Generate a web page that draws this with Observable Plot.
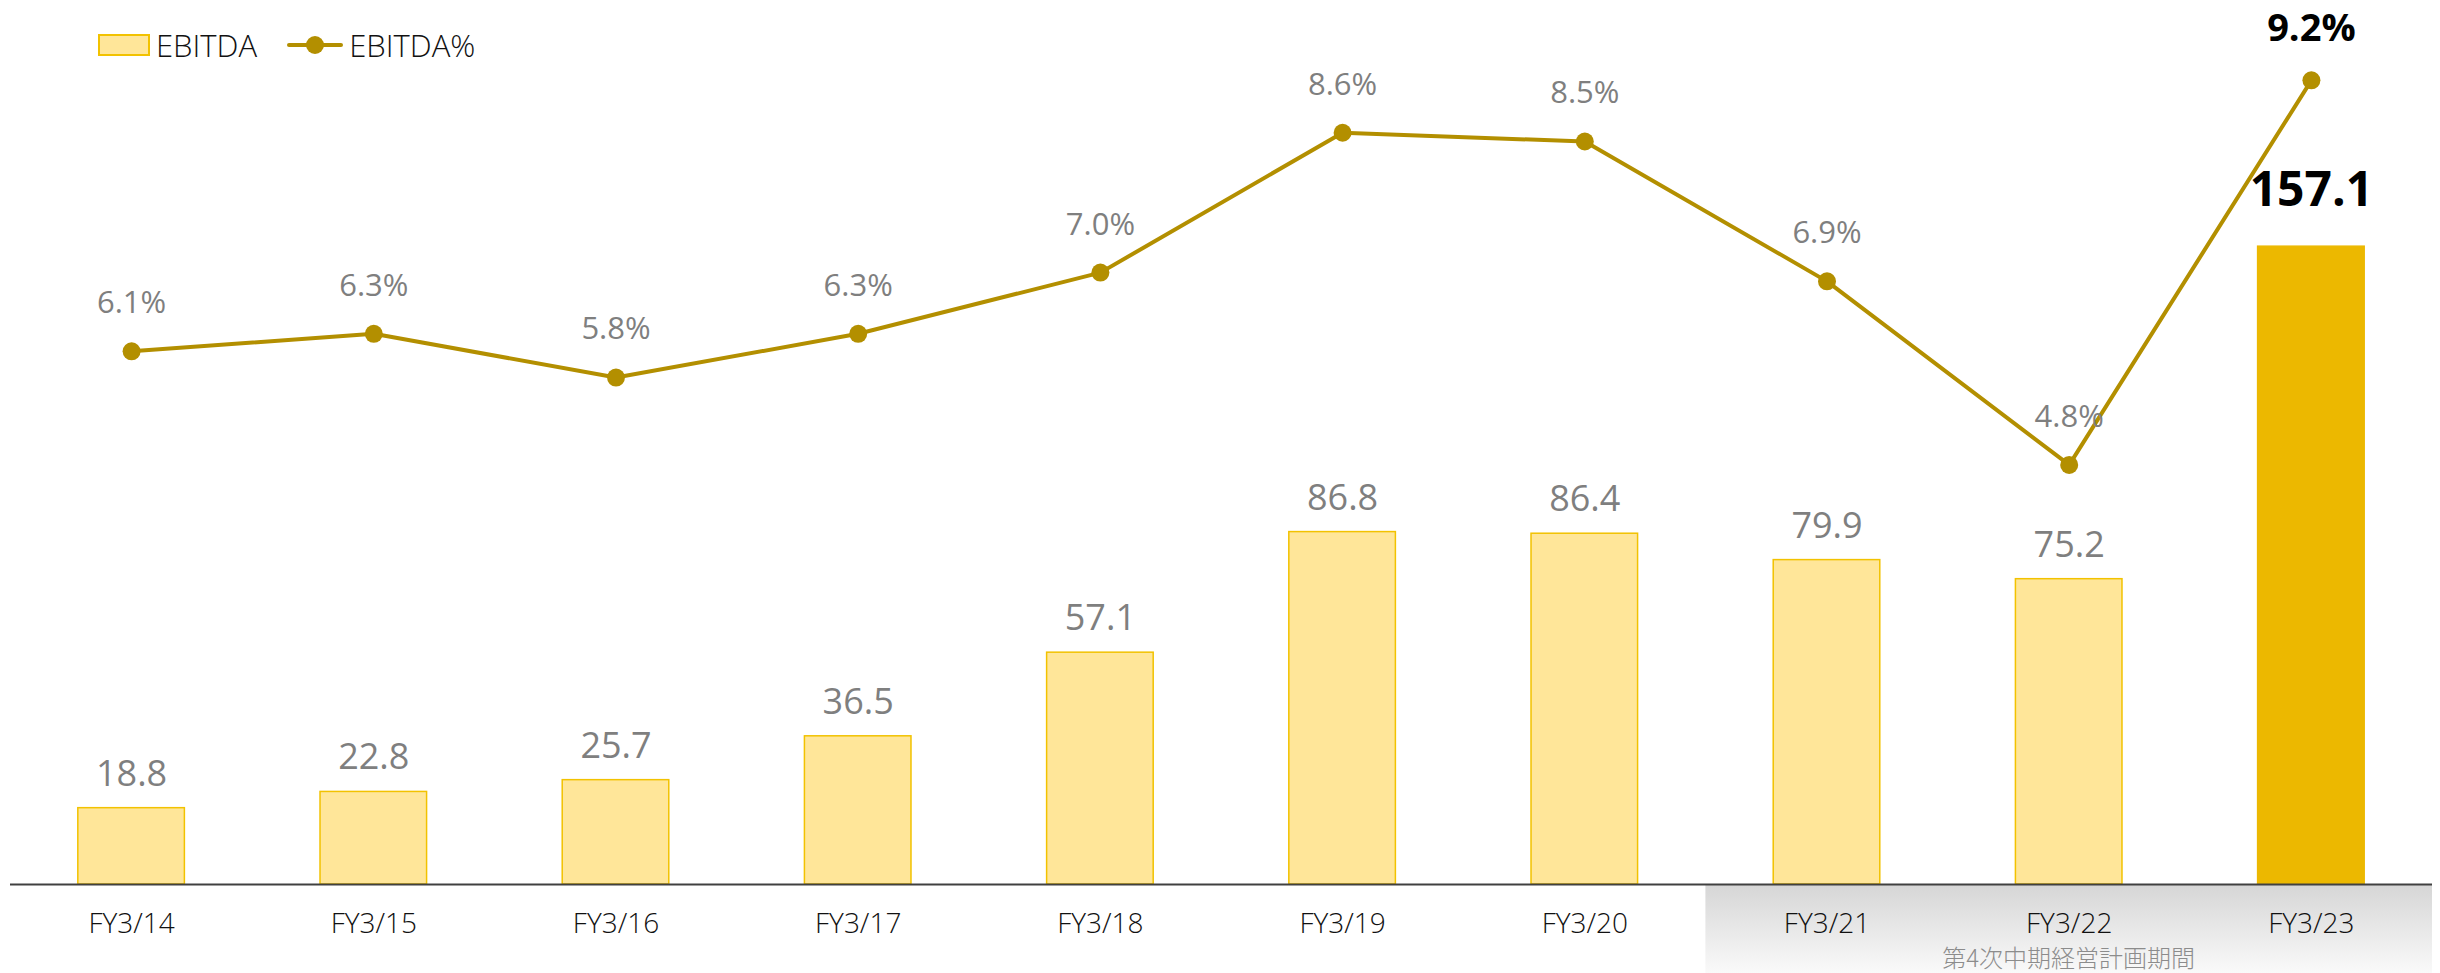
<!DOCTYPE html>
<html><head><meta charset="utf-8">
<script src="https://cdn.jsdelivr.net/npm/d3@7"></script>
<script src="https://cdn.jsdelivr.net/npm/@observablehq/plot@0.6"></script>
<style>
body{margin:0;background:#fff;font-family:"Open Sans",Lato,sans-serif;}
#wrap{position:relative;width:2440px;height:973px;}
#legend{position:absolute;left:98px;top:24px;display:flex;align-items:center;font-size:31px;font-weight:300;color:#111;}
</style></head>
<body><div id="wrap"><div id="legend"></div></div>
<script>
const categories = ["FY3/14","FY3/15","FY3/16","FY3/17","FY3/18","FY3/19","FY3/20","FY3/21","FY3/22","FY3/23"];
const ebitda = [18.8,22.8,25.7,36.5,57.1,86.8,86.4,79.9,75.2,157.1];
const ebitdaPct = [6.1,6.3,5.8,6.3,7.0,8.6,8.5,6.9,4.8,9.2];
const planCategories = ["FY3/21","FY3/22","FY3/23"];
const planLabel = "第4次中期経営計画期間";
const seriesNames = ["EBITDA","EBITDA%"];

const K = 21.53; // secondary-axis ratio (percent -> bar units)
const last = categories[categories.length-1];
const data = categories.map((c,i)=>({cat:c, v:ebitda[i], p:ebitdaPct[i], hl:c===last}));

const gray = "#7f7f7f", lineCol = "#B38F00";
const chart = Plot.plot({
  width:2440, height:973,
  marginLeft:10, marginRight:8, marginTop:72, marginBottom:89,
  style:{fontFamily:'"Open Sans",Lato,sans-serif', background:"transparent"},
  x:{domain:categories, paddingInner:0.56, paddingOuter:0.28, round:false, label:null},
  y:{domain:[0,200], axis:null},
  marks:[
    Plot.barY(data,{x:"cat", y:"v", fill:d=>d.hl?"#ECB800":"#FFE699", stroke:d=>d.hl?"#ECB800":"#F2C200", strokeWidth:1.5}),
    Plot.ruleY([0],{stroke:"#404040", strokeWidth:2}),
    Plot.axisX({tickSize:0, tickPadding:29, fontSize:28, fontWeight:300, fill:"#111"}),
    Plot.line(data,{x:"cat", y:d=>d.p*K, stroke:lineCol, strokeWidth:4}),
    Plot.dot(data,{x:"cat", y:d=>d.p*K, r:9, fill:lineCol, stroke:"none"}),
    Plot.text(data.filter(d=>!d.hl),{x:"cat", y:"v", text:d=>d.v.toFixed(1), dy:-34, lineAnchor:"middle", fontSize:36, fill:gray}),
    Plot.text(data.filter(d=>d.hl),{x:"cat", y:"v", text:d=>d.v.toFixed(1), dy:-56, lineAnchor:"middle", fontSize:48, fontWeight:"bold", fill:"#000"}),
    Plot.text(data.filter(d=>!d.hl),{x:"cat", y:d=>d.p*K, text:d=>d.p.toFixed(1)+"%", dy:-48, lineAnchor:"middle", fontSize:31, fill:gray}),
    Plot.text(data.filter(d=>d.hl),{x:"cat", y:d=>d.p*K, text:d=>d.p.toFixed(1)+"%", dy:-51, lineAnchor:"middle", fontSize:38, fontWeight:"bold", fill:"#000"})
  ]
});

// background band for plan period, positioned from the x scale
const xs = chart.scale("x");
const step = xs.step;
const x0 = xs.apply(planCategories[0]) - (step - xs.bandwidth)/2;
const x1 = 2440 - 8;
const yBase = chart.scale("y").apply(0);
const svg = d3.select(chart);
const defs = svg.insert("defs",":first-child");
const g = defs.append("linearGradient").attr("id","bandGrad").attr("x1",0).attr("y1",0).attr("x2",0).attr("y2",1);
g.append("stop").attr("offset","0%").attr("stop-color","#d6d6d6");
g.append("stop").attr("offset","100%").attr("stop-color","#fafafa");
svg.insert("rect","defs + *").attr("x",x0).attr("y",yBase+1).attr("width",x1-x0).attr("height",973-yBase).attr("fill","url(#bandGrad)");
svg.append("text").attr("x", xs.apply(planCategories[1]) + xs.bandwidth/2).attr("y", 960)
  .attr("text-anchor","middle").attr("dominant-baseline","middle")
  .attr("font-family",'"Noto Sans CJK JP",sans-serif').attr("font-size",24).attr("font-weight",300).attr("fill","#8c8c8c").text(planLabel);

document.getElementById("wrap").appendChild(chart);
chart.style.position="absolute"; chart.style.left="0"; chart.style.top="0";
const legend = document.getElementById("legend");
legend.style.zIndex = 2;
legend.innerHTML =
  `<svg width="52" height="22"><rect x="1" y="1" width="50" height="20" fill="#FFE699" stroke="#F2C200" stroke-width="2"/></svg>`+
  `<span style="margin-left:6px">${seriesNames[0]}</span>`+
  `<svg width="56" height="22" style="margin-left:30px"><line x1="2" y1="11" x2="54" y2="11" stroke="${lineCol}" stroke-width="4" stroke-linecap="round"/><circle cx="28" cy="11" r="9" fill="${lineCol}"/></svg>`+
  `<span style="margin-left:6px">${seriesNames[1]}</span>`;
</script></body></html>
